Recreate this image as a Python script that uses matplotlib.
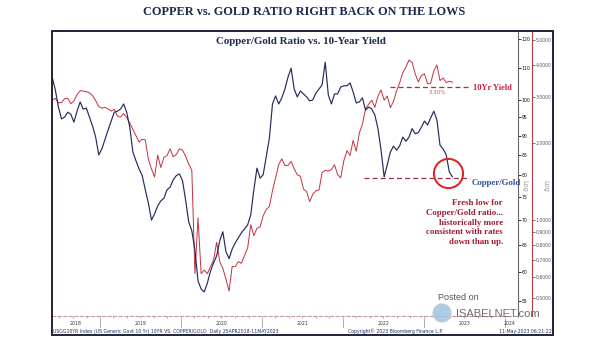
import matplotlib
matplotlib.use("Agg")
import matplotlib.pyplot as plt
import matplotlib.transforms as mtransforms
import matplotlib.dates as mdates
from matplotlib.ticker import NullLocator
from matplotlib.patches import Rectangle, Ellipse
import pandas as pd

# biweekly samples, 30 May 2018 .. 10 May 2023
start_date = "2018-05-30"

copper_gold = [
    107.1, 103.1, 98.0, 94.6, 95.1, 96.5, 95.9, 93.7, 96.8, 99.5,
    97.4, 97.7, 95.1, 92.6, 89.6, 85.0, 86.5, 89.0, 91.5, 94.0,
    96.5, 96.8, 97.4, 98.9, 96.5, 92.3, 85.7, 83.5, 81.5, 79.9,
    76.6, 73.6, 70.0, 71.3, 73.0, 74.1, 74.7, 76.6, 77.2, 78.9,
    79.9, 80.3, 78.7, 74.3, 69.6, 67.8, 64.0, 58.4, 57.0, 56.5,
    58.0, 60.1, 61.6, 62.9, 65.8, 67.6, 63.7, 62.4, 64.2, 65.4,
    66.4, 67.4, 68.2, 69.0, 71.1, 76.6, 81.7, 79.3, 80.1, 84.5,
    89.3, 98.9, 101.3, 98.9, 100.7, 103.4, 107.1, 110.0, 103.4, 101.0,
    102.8, 101.9, 101.0, 99.8, 100.1, 102.2, 103.4, 104.7, 112.0, 101.6,
    98.9, 101.9, 101.9, 104.0, 104.4, 104.4, 105.3, 102.5, 99.2, 99.5,
    100.7, 97.1, 98.0, 97.4, 95.7, 91.9, 86.2, 79.6, 82.5, 85.7,
    87.2, 86.2, 87.3, 89.6, 88.5, 89.6, 91.9, 90.5, 90.8, 92.3,
    94.0, 92.9, 94.9, 96.8, 94.3, 87.5, 86.5, 85.0, 80.8, 79.6,
]

us10y = [
    2.92, 2.97, 2.85, 2.86, 2.96, 2.97, 2.83, 2.90, 3.07, 3.18,
    3.17, 3.15, 3.12, 3.04, 2.91, 2.76, 2.72, 2.74, 2.70, 2.65,
    2.69, 2.54, 2.51, 2.59, 2.50, 2.38, 2.25, 2.13, 2.01, 2.06,
    2.05, 1.72, 1.58, 1.47, 1.79, 1.60, 1.75, 1.78, 1.89, 1.76,
    1.80, 1.89, 1.87, 1.77, 1.65, 1.56, 0.62, 1.02, 0.62, 0.64,
    0.62, 0.66, 0.70, 0.82, 0.69, 0.65, 0.59, 0.53, 0.66, 0.66,
    0.69, 0.68, 0.73, 0.78, 0.96, 0.87, 0.93, 0.94, 1.04, 1.10,
    1.13, 1.30, 1.46, 1.64, 1.73, 1.63, 1.63, 1.69, 1.58, 1.50,
    1.48, 1.32, 1.29, 1.18, 1.26, 1.30, 1.31, 1.53, 1.56, 1.55,
    1.57, 1.64, 1.50, 1.46, 1.70, 1.86, 1.78, 2.04, 1.85, 2.18,
    2.36, 2.70, 2.82, 2.92, 2.74, 3.03, 3.20, 2.92, 3.03, 2.73,
    2.89, 3.17, 3.41, 3.74, 3.92, 4.18, 4.10, 3.70, 3.44, 3.64,
    3.70, 3.38, 3.40, 3.80, 4.00, 3.48, 3.56, 3.42, 3.46, 3.43,
]

ratio_ticks = [55, 60, 65, 70, 75, 80, 85, 90, 95, 100, 110, 120]
yield_ticks = [0.5, 0.6, 0.7, 0.8, 0.9, 1.0, 2.0, 3.0, 4.0, 5.0]
years = [2018, 2019, 2020, 2021, 2022, 2023, 2024]

ratio_low = 79.3
yield_level = 3.30

dates = pd.date_range(start_date, periods=len(copper_gold), freq="14D")

W, H = 605, 341
fig = plt.figure(figsize=(W / 100, H / 100), dpi=100)


def fx(px):
    return px / W


def fy(py):
    return 1 - py / H


SERIF = ["Liberation Serif", "DejaVu Serif"]
NAVY = "#1b2a4e"

# yield axis is the base one, ratio drawn on the twin so it sits on top
ax = fig.add_axes([fx(52), fy(316), fx(518) - fx(52), fy(31) - fy(316)])
ax.set_xlim(pd.Timestamp("2018-05-29"), pd.Timestamp("2024-03-01"))
ax.set_yscale("log")
ax.set_ylim(0.4245, 5.42)
ax.plot(dates, us10y, color="#c4303f", lw=0.7)

ax2 = ax.twinx()
ax2.set_yscale("log")
ax2.set_ylim(52.6, 122.9)
ax2.plot(dates, copper_gold, color="#232b5c", lw=0.85)

# outer (yield) axis
ax.yaxis.tick_right()
ax.yaxis.set_label_position("right")
ax.spines["right"].set_position(("outward", 14 * 0.72))
ax.spines["right"].set_color("#b0404a")
ax.spines["right"].set_linewidth(0.8)
ax.spines["left"].set_visible(False)
ax.spines["top"].set_visible(False)
ax.spines["bottom"].set_linestyle((0, (3, 2)))
ax.spines["bottom"].set_color("#c49a9a")
ax.spines["bottom"].set_linewidth(0.8)
ax.set_yticks(yield_ticks)
ax.set_yticklabels([f"{v:.4f}" for v in yield_ticks])
ax.yaxis.set_minor_locator(NullLocator())
ax.tick_params(axis="y", which="both", left=False, right=True,
               labelleft=False, labelright=True, colors="#c03040",
               labelcolor="#555555", length=2, width=0.6, pad=0.5,
               labelsize=3.3)

ax.xaxis.set_major_locator(mdates.MonthLocator(bymonth=[1, 3, 5, 7, 9, 11]))
ax.xaxis.set_major_formatter(plt.NullFormatter())
ax.tick_params(axis="x", colors="#b08080", length=1.5, width=0.5)

# inner (ratio) axis
for s in ["left", "top", "bottom"]:
    ax2.spines[s].set_visible(False)
ax2.spines["right"].set_color("#666666")
ax2.spines["right"].set_linewidth(0.8)
ax2.set_yticks(ratio_ticks)
ax2.set_yticklabels([str(v) for v in ratio_ticks])
ax2.yaxis.set_minor_locator(NullLocator())
ax2.tick_params(axis="y", colors="#111111", length=2, width=0.6, pad=0.5,
                labelsize=3.3)

# year labels and separators under the time axis
trans = mtransforms.blended_transform_factory(ax.transData, ax.transAxes)
left, right = ax.get_xlim()
for yr in years:
    jan = mdates.date2num(pd.Timestamp(f"{yr}-01-01"))
    if yr > 2018:
        ax.plot([jan, jan], [-0.012, -0.04], transform=trans, clip_on=False,
                color="#999999", lw=0.6)
    lo = max(jan, left)
    hi = min(mdates.date2num(pd.Timestamp(f"{yr + 1}-01-01")), right)
    xpos = (lo + hi) / 2 if yr < 2024 else lo + 22
    ax.text(xpos, -0.026, str(yr), transform=trans, ha="center", va="center",
            fontsize=3.3, color="#333333")

# dashed reference levels and highlight
ax2.plot([pd.Timestamp("2022-04-08"), pd.Timestamp("2023-07-27")],
         [ratio_low, ratio_low], ls=(0, (4, 2.5)), color="#9b3346", lw=0.9)
ax.plot([pd.Timestamp("2022-07-31"), pd.Timestamp("2023-07-27")],
        [yield_level, yield_level], ls=(0, (4, 2.5)), color="#9b3346", lw=0.9)
ax.text(pd.Timestamp("2023-03-03"), 3.12, "3.30%", fontsize=4, color="#d05060",
        ha="center", va="center")
ax2.plot([pd.Timestamp("2023-04-22")], [80.5], marker="o", ms=21, mfc="none",
         mec="#e01e1e", mew=1.4, clip_on=False)

# titles
fig.text(fx(304), fy(12), "COPPER vs. GOLD RATIO RIGHT BACK ON THE LOWS",
         ha="center", va="center", fontsize=8.8, fontweight="bold",
         color=NAVY, family=SERIF)
fig.text(fx(301), fy(41), "Copper/Gold Ratio vs. 10-Year Yield",
         ha="center", va="center", fontsize=7.8, fontweight="bold",
         color=NAVY, family=SERIF)

fig.text(fx(473), fy(88), "10Yr Yield", ha="left", va="center", fontsize=6,
         fontweight="bold", color="#c8203a", family=SERIF)
fig.text(fx(472), fy(183), "Copper/Gold", ha="left", va="center", fontsize=6.3,
         fontweight="bold", color="#2e4c9c", family=SERIF)
fig.text(fx(503), fy(199),
         "Fresh low for\nCopper/Gold ratio...\nhistorically more\n"
         "consistent with rates\ndown than up.",
         ha="right", va="top", fontsize=6.4, fontweight="bold",
         color="#a01c32", family=SERIF, linespacing=1.3)

# "Log" markers sit in the gap between the 80 and 75 ticks
for xp in (524, 545):
    fig.text(fx(xp), fy(186), "Log", rotation=-90, ha="center", va="center",
             fontsize=4.8, color="#999999")

# watermark
fig.text(fx(438), fy(297), "Posted on", ha="left", va="center", fontsize=6.5,
         color="#555555", family="Liberation Sans")
fig.text(fx(456), fy(314), "ISABELNET.com", ha="left", va="center",
         fontsize=8, color="#6d6d6d", family="Liberation Sans")
fig.add_artist(Ellipse((fx(442), fy(313)), 18 / W, 18 / H,
                       transform=fig.transFigure, fc="#9cc4e4", ec="#c8c8c8",
                       lw=1, alpha=0.85))

# footer
foot = dict(fontsize=3.3, color="#1f2d6b", va="center")
fig.text(fx(53), fy(331), "USGG10YR Index (US Generic Govt 10 Yr) 10YR VS. "
         "COPPER/GOLD  Daily 25APR2018-11MAY2023", ha="left", **foot)
fig.text(fx(348), fy(331), "Copyright\u00a9 2023 Bloomberg Finance L.P.",
         ha="left", **foot)
fig.text(fx(552), fy(331), "11-May-2023 06:21:22", ha="right", **foot)

# chart frame
fig.add_artist(Rectangle((fx(52), fy(335)), fx(553) - fx(52), fy(31) - fy(335),
                         transform=fig.transFigure, fill=False, lw=1.4,
                         ec="#222233"))

fig.savefig("out.png", dpi=100)
